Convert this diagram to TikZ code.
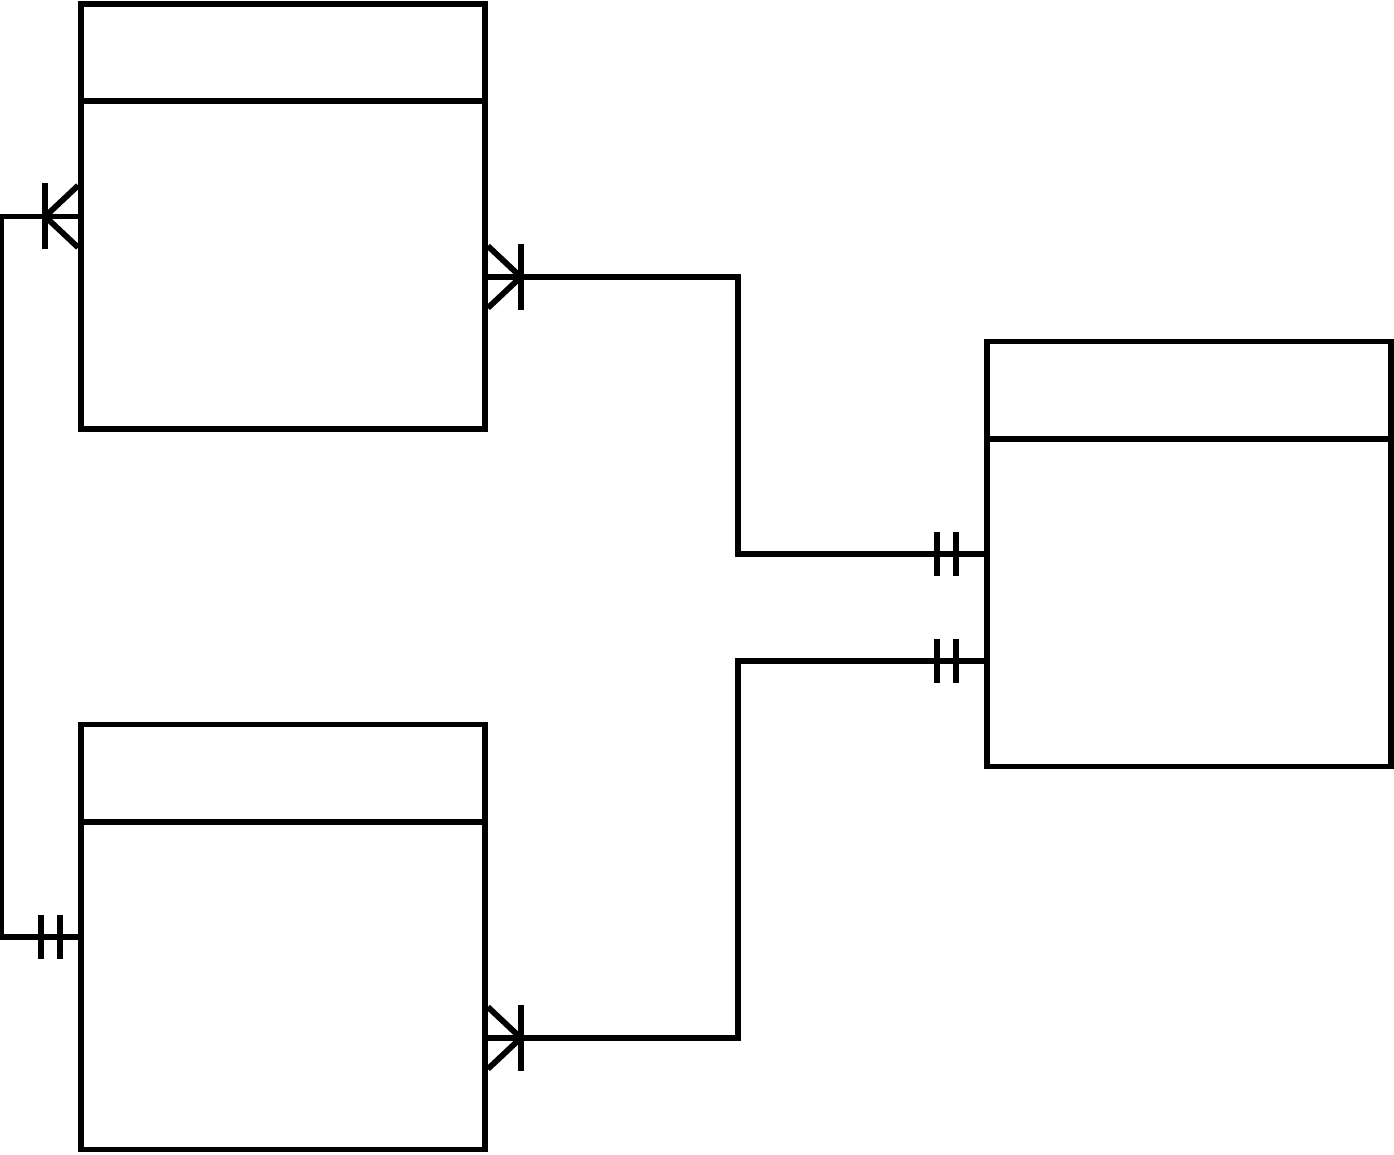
\documentclass[tikz,border=0pt]{standalone}
\usetikzlibrary{positioning}

\tikzset{
  table/.style={draw, line width=3.3pt, minimum width=8.08cm, minimum height=8.5cm, inner sep=0pt},
  crowfoot/.pic={\draw[line join=round] (0,-31) -- (-33,0) -- (0,31);
                 \draw (-33,-33) -- (-33,33);},
  onebars/.pic={\draw (0,-22) -- (0,22) (-19,-22) -- (-19,22);}
}

\begin{document}
\begin{tikzpicture}[x=0.02cm, y=-0.02cm, line width=3.3pt]
\useasboundingbox (0,0) rectangle (1394,1155);

% tables
\node[table] (user) at (283,216.5) {};
\node[table] (post) at (283,937) {};
\node[table] (group) at (1189,554) {};
\foreach \t in {user,post,group}
  \draw ([yshift=-2cm]\t.north west) -- ([yshift=-2cm]\t.north east);

% relations
\draw (user.west) -- ++(-77,0) |- (post.west);
\pic at (user.west) {crowfoot};
\pic at ([xshift=-0.36cm]post.west) {onebars};

\coordinate (u2) at ([yshift=-1.21cm]user.east);
\coordinate (g1) at (group.west);
\draw (u2) -- ++(250,0) |- (g1);
\pic[xscale=-1] at (u2) {crowfoot};
\pic at ([xshift=-0.56cm]g1) {onebars};

\coordinate (p2) at ([yshift=-2.02cm]post.east);
\coordinate (g2) at ([yshift=-2.14cm]group.west);
\draw (p2) -- ++(250,0) |- (g2);
\pic[xscale=-1] at (p2) {crowfoot};
\pic at ([xshift=-0.56cm]g2) {onebars};
\end{tikzpicture}
\end{document}
